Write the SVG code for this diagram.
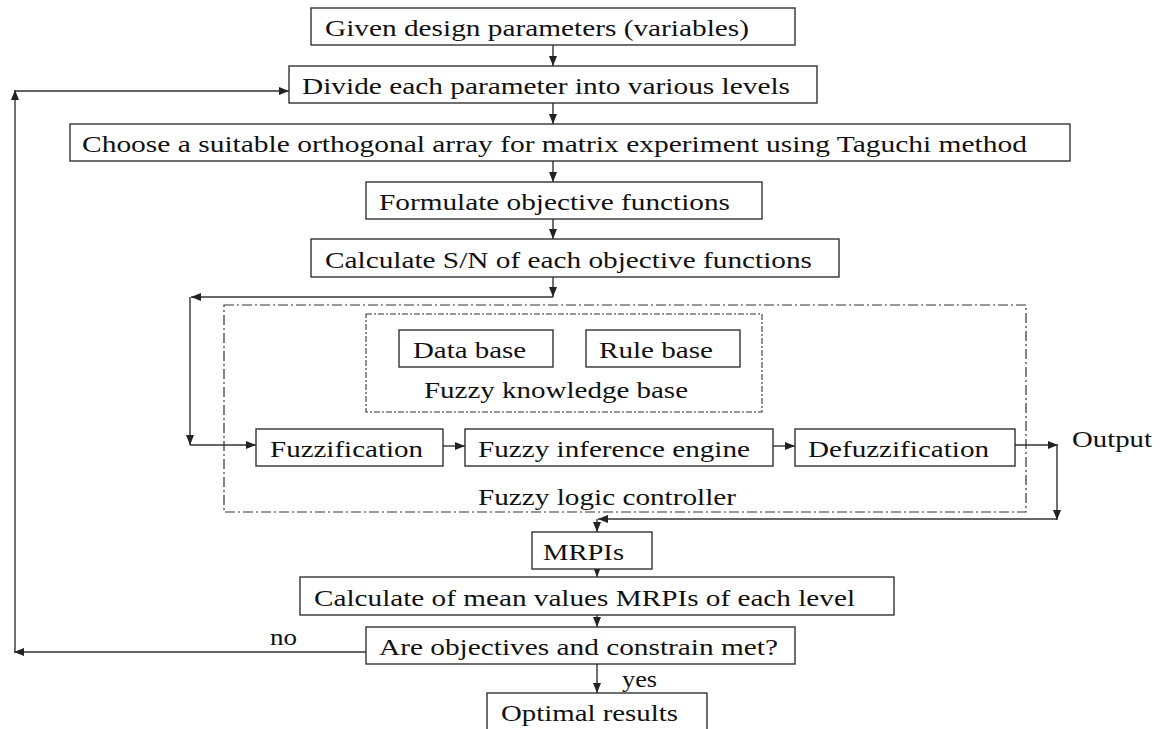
<svg xmlns="http://www.w3.org/2000/svg" width="1165" height="729" viewBox="0 0 1165 729">
<style>
.box{fill:#fff;stroke:#333;stroke-width:1.4}
.t{font-family:"Liberation Serif","Times New Roman",serif;font-size:24px;fill:#111}
.c{fill:none;stroke:#333;stroke-width:1.4}
.dash1{fill:none;stroke:#333;stroke-width:1.2;stroke-dasharray:10,3,2,3}
.dash2{fill:none;stroke:#333;stroke-width:1.1;stroke-dasharray:6,2,2,2}
</style>
<defs>
<marker id="ah" markerUnits="userSpaceOnUse" markerWidth="10" markerHeight="8" refX="10" refY="4" orient="auto">
<path d="M0,0 L10,4 L0,8 Z" fill="#222"/>
</marker>
</defs>
<rect width="1165" height="729" fill="#fff"/>

<g id="connectors">
<path class="c" d="M553,45 V66" marker-end="url(#ah)"/>
<path class="c" d="M553,103 V124" marker-end="url(#ah)"/>
<path class="c" d="M553,161 V182" marker-end="url(#ah)"/>
<path class="c" d="M553,219 V239" marker-end="url(#ah)"/>
<path class="c" d="M553,277 V297" marker-end="url(#ah)"/>
<path class="c" d="M553,297 H191" marker-end="url(#ah)"/>
<path class="c" d="M190,297 V445" marker-end="url(#ah)"/>
<path class="c" d="M190,445 H256" marker-end="url(#ah)"/>
<path class="c" d="M443,446 H465" marker-end="url(#ah)"/>
<path class="c" d="M773,446 H795" marker-end="url(#ah)"/>
<path class="c" d="M1015,445 H1058" marker-end="url(#ah)"/>
<path class="c" d="M1057,445 V520" marker-end="url(#ah)"/>
<path class="c" d="M1057,519 H598" marker-end="url(#ah)"/>
<path class="c" d="M597,519 V532" marker-end="url(#ah)"/>
<path class="c" d="M597,569 V577" marker-end="url(#ah)"/>
<path class="c" d="M597,615 V627" marker-end="url(#ah)"/>
<path class="c" d="M597,664 V693" marker-end="url(#ah)"/>
<path class="c" d="M366,652 H14" marker-end="url(#ah)"/>
<path class="c" d="M15,652 V90" marker-end="url(#ah)"/>
<path class="c" d="M15,91 H289" marker-end="url(#ah)"/>
<text class="t" x="270" y="645" textLength="27" lengthAdjust="spacingAndGlyphs">no</text>
<text class="t" x="622" y="687" textLength="35" lengthAdjust="spacingAndGlyphs">yes</text>
<text class="t" x="1072" y="447" textLength="80" lengthAdjust="spacingAndGlyphs">Output</text>
</g>

<g id="flc">
<rect class="dash1" x="224" y="305" width="802" height="207"/>
<text class="t" x="478" y="505" textLength="258" lengthAdjust="spacingAndGlyphs">Fuzzy logic controller</text>
</g>
<g id="fkb">
<rect class="dash2" x="366" y="314" width="396" height="98"/>
<text class="t" x="424" y="398" textLength="264" lengthAdjust="spacingAndGlyphs">Fuzzy knowledge base</text>
</g>

<g id="n1"><rect class="box" x="311" y="8" width="484" height="37"/>
<text class="t" x="325" y="36" textLength="424" lengthAdjust="spacingAndGlyphs">Given design parameters (variables)</text></g>
<g id="n2"><rect class="box" x="289" y="66" width="528" height="37"/>
<text class="t" x="302" y="94" textLength="488" lengthAdjust="spacingAndGlyphs">Divide each parameter into various levels</text></g>
<g id="n3"><rect class="box" x="70" y="124" width="1000" height="37"/>
<text class="t" x="82" y="152" textLength="945" lengthAdjust="spacingAndGlyphs">Choose a suitable orthogonal array for matrix experiment using Taguchi method</text></g>
<g id="n4"><rect class="box" x="366" y="182" width="396" height="37"/>
<text class="t" x="379" y="210" textLength="351" lengthAdjust="spacingAndGlyphs">Formulate objective functions</text></g>
<g id="n5"><rect class="box" x="311" y="239" width="528" height="38"/>
<text class="t" x="325" y="268" textLength="487" lengthAdjust="spacingAndGlyphs">Calculate S/N of each objective functions</text></g>
<g id="n6"><rect class="box" x="399" y="330" width="154" height="37"/>
<text class="t" x="413" y="358" textLength="113" lengthAdjust="spacingAndGlyphs">Data base</text></g>
<g id="n7"><rect class="box" x="586" y="330" width="154" height="37"/>
<text class="t" x="599" y="358" textLength="114" lengthAdjust="spacingAndGlyphs">Rule base</text></g>
<g id="n8"><rect class="box" x="256" y="429" width="187" height="37"/>
<text class="t" x="270" y="457" textLength="153" lengthAdjust="spacingAndGlyphs">Fuzzification</text></g>
<g id="n9"><rect class="box" x="465" y="429" width="308" height="37"/>
<text class="t" x="478" y="457" textLength="272" lengthAdjust="spacingAndGlyphs">Fuzzy inference engine</text></g>
<g id="n10"><rect class="box" x="795" y="429" width="220" height="37"/>
<text class="t" x="808" y="457" textLength="181" lengthAdjust="spacingAndGlyphs">Defuzzification</text></g>
<g id="n11"><rect class="box" x="532" y="532" width="120" height="37"/>
<text class="t" x="543" y="560" textLength="81" lengthAdjust="spacingAndGlyphs">MRPIs</text></g>
<g id="n12"><rect class="box" x="300" y="577" width="594" height="38"/>
<text class="t" x="314" y="606" textLength="541" lengthAdjust="spacingAndGlyphs">Calculate of mean values MRPIs of each level</text></g>
<g id="n13"><rect class="box" x="366" y="627" width="429" height="37"/>
<text class="t" x="379" y="655" textLength="399" lengthAdjust="spacingAndGlyphs">Are objectives and constrain met?</text></g>
<g id="n14"><rect class="box" x="487" y="693" width="220" height="42"/>
<text class="t" x="501" y="721" textLength="177" lengthAdjust="spacingAndGlyphs">Optimal results</text></g>
</svg>
